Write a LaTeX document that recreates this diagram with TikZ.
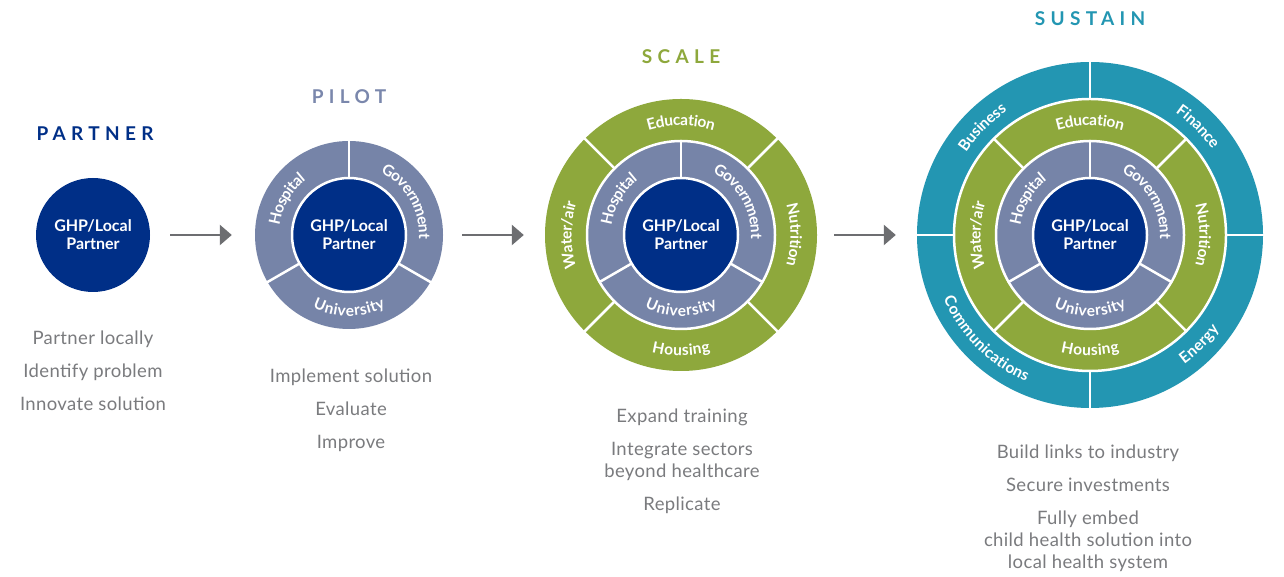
\documentclass[tikz,border=0pt]{standalone}
\usepackage{fontspec}
\setmainfont{Lato}
\usetikzlibrary{arrows.meta,decorations.text}
\definecolor{navy}{HTML}{002F87}
\definecolor{slate}{HTML}{7684A8}
\definecolor{leaf}{HTML}{8EA83C}
\definecolor{sea}{HTML}{2396B2}
\definecolor{txtgray}{HTML}{7A7B7E}
\definecolor{arrgray}{HTML}{6D6E71}
\definecolor{pilotc}{HTML}{7A87AC}
\newcommand\ringlabel[5]{%
  \path[decorate,decoration={text along path,text align=center,raise=-5.5pt,
    text={|\bfseries\fontsize{15.5}{15.5}\selectfont\color{white}|#5}}]
    ([shift={(#3:#2pt)}]#1) arc[start angle=#3,end angle=#4,radius=#2pt];}
\tikzset{
  hub/.style={circle,fill=navy,minimum size=114pt,inner sep=0pt,text=white,
    font=\bfseries\fontsize{16}{18}\selectfont,align=center},
  disc/.style={circle,inner sep=0pt},
  gap/.style={draw=white,line width=2.5pt},
  arr/.style={draw=arrgray,line width=2.5pt,-{Triangle[length=12pt,width=20pt]}},
  title/.style={font=\bfseries\fontsize{19}{19}\selectfont\addfontfeatures{LetterSpace=28}},
  body/.style={text=txtgray,font=\fontsize{18.5}{18.5}\selectfont\addfontfeatures{LetterSpace=2},anchor=base}
}
\begin{document}
\begin{tikzpicture}[x=1pt,y=1pt]
\useasboundingbox (0,0) rectangle (1284,577);
\fill[white] (0,0) rectangle (1284,577);
% PARTNER
\node[hub] (hub1) at (93,342) {GHP/Local\\Partner};
% PILOT
\node[disc,fill=slate,minimum size=188pt] (ring2) at (349,342) {};
\foreach \a in {90,210,330}
  \draw[gap] ([shift={(\a:56pt)}]ring2.center) -- ([shift={(\a:95pt)}]ring2.center);
\node[hub,draw=white,line width=2.5pt] (hub2) at (ring2.center) {GHP/Local\\Partner};
% SCALE
\node[disc,fill=leaf,minimum size=272pt] (ring3) at (681,342) {};
\foreach \a in {45,135,225,315}
  \draw[gap] ([shift={(\a:93pt)}]ring3.center) -- ([shift={(\a:137pt)}]ring3.center);
\draw[gap,fill=slate] (ring3.center) circle[radius=94pt];
\foreach \a in {90,210,330}
  \draw[gap] ([shift={(\a:56pt)}]ring3.center) -- ([shift={(\a:95pt)}]ring3.center);
\node[hub,draw=white,line width=2.5pt] (hub3) at (ring3.center) {GHP/Local\\Partner};
% SUSTAIN
\node[disc,fill=sea,minimum size=346pt] (ring4) at (1090,342) {};
\foreach \a in {0,90,180,270}
  \draw[gap] ([shift={(\a:135pt)}]ring4.center) -- ([shift={(\a:174pt)}]ring4.center);
\draw[gap,fill=leaf] (ring4.center) circle[radius=136pt];
\foreach \a in {45,135,225,315}
  \draw[gap] ([shift={(\a:93pt)}]ring4.center) -- ([shift={(\a:137pt)}]ring4.center);
\draw[gap,fill=slate] (ring4.center) circle[radius=94pt];
\foreach \a in {90,210,330}
  \draw[gap] ([shift={(\a:56pt)}]ring4.center) -- ([shift={(\a:95pt)}]ring4.center);
\node[hub,draw=white,line width=2.5pt] (hub4) at (ring4.center) {GHP/Local\\Partner};
% arrows
\draw[arr] ([xshift=20pt]hub1.east) -- ([xshift=-23pt]ring2.west);
\draw[arr] ([xshift=19pt]ring2.east) -- ([xshift=-21pt]ring3.west);
\draw[arr] ([xshift=17pt]ring3.east) -- ([xshift=-21pt]ring4.west);
% ring labels
\foreach \c in {ring2,ring3,ring4}{
  \ringlabel{\c.center}{75.5}{195}{105}{Hospital}
  \ringlabel{\c.center}{75.5}{75}{-15}{Government}
  \ringlabel{\c.center}{75.5}{225}{315}{University}
}
\foreach \c in {ring3,ring4}{
  \ringlabel{\c.center}{115}{135}{45}{Education}
  \ringlabel{\c.center}{115}{45}{-45}{Nutrition}
  \ringlabel{\c.center}{115}{225}{135}{Water/air}
  \ringlabel{\c.center}{115}{225}{315}{Housing}
}
\ringlabel{ring4.center}{154.5}{175}{95}{Business}
\ringlabel{ring4.center}{154.5}{85}{5}{Finance}
\ringlabel{ring4.center}{154.5}{185}{265}{Communications}
\ringlabel{ring4.center}{154.5}{275}{355}{Energy}
% titles
\node[title,text=navy] (t1) at (95,443) {PARTNER};
\node[title,text=pilotc] (t2) at (349,480) {PILOT};
\node[title,text=leaf] (t3) at (681,520) {SCALE};
\node[title,text=sea] (t4) at (1090,558) {SUSTAIN};
% body texts
\node[body] (p1) at (93,232) {Partner locally};
\node[body] (p2) at (93,199) {Identify problem};
\node[body] (p3) at (93,166) {Innovate solution};
\node[body] (q1) at (351,194) {Implement solution};
\node[body] (q2) at (351,161) {Evaluate};
\node[body] (q3) at (351,128) {Improve};
\node[body] (r1) at (682,154) {Expand training};
\node[body] (r2) at (682,121) {Integrate sectors};
\node[body] (r3) at (682,99) {beyond healthcare};
\node[body] (r4) at (682,66) {Replicate};
\node[body] (s1) at (1088,118) {Build links to industry};
\node[body] (s2) at (1088,85) {Secure investments};
\node[body] (s3) at (1088,52) {Fully embed};
\node[body] (s4) at (1088,30) {child health solution into};
\node[body] (s5) at (1088,8) {local health system};
\end{tikzpicture}
\end{document}
